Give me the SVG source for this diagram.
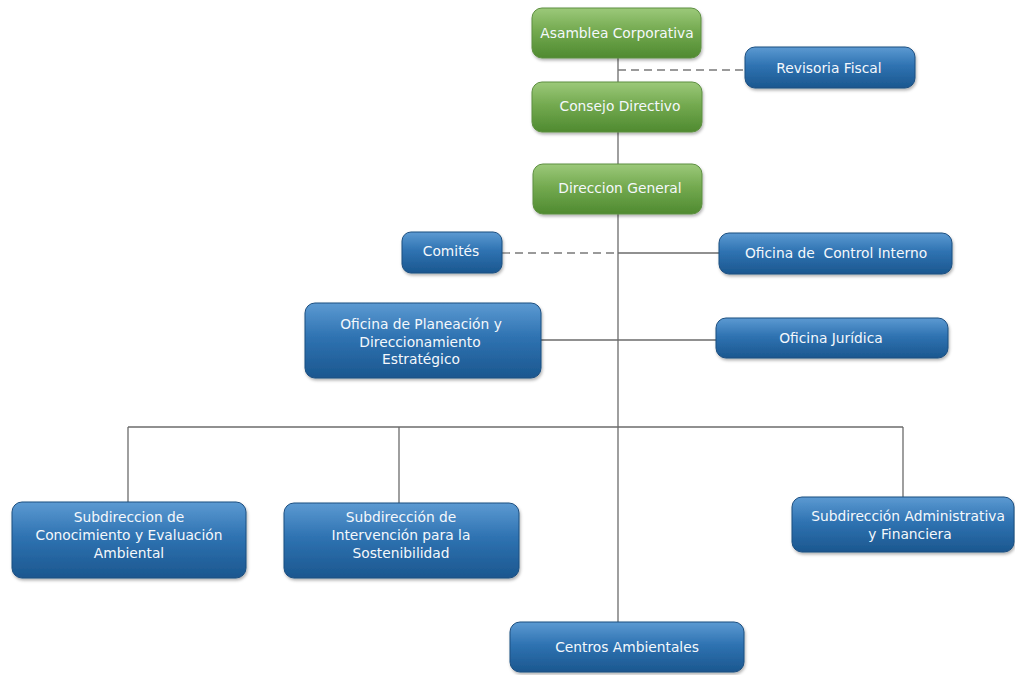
<svg xmlns="http://www.w3.org/2000/svg" width="1015" height="675" viewBox="0 0 1015 675">
<defs>
<linearGradient id="gGreen" x1="0" y1="0" x2="0" y2="1">
<stop offset="0" stop-color="#9cc97a"/>
<stop offset="0.45" stop-color="#74aa50"/>
<stop offset="1" stop-color="#4f8a30"/>
</linearGradient>
<linearGradient id="gBlue" x1="0" y1="0" x2="0" y2="1">
<stop offset="0" stop-color="#5c9ad2"/>
<stop offset="0.45" stop-color="#2f73b2"/>
<stop offset="1" stop-color="#1b578f"/>
</linearGradient>
<filter id="sh" x="-10%" y="-20%" width="120%" height="150%">
<feDropShadow dx="1" dy="2" stdDeviation="1.5" flood-color="#000" flood-opacity="0.3"/>
</filter>
</defs>
<style>
.g{fill:url(#gGreen);stroke:#5d8f40;stroke-width:1;filter:url(#sh)}
.b{fill:url(#gBlue);stroke:#1c4f80;stroke-width:1;filter:url(#sh)}
.t{font-family:"DejaVu Sans",Verdana,sans-serif;font-size:13.8px;fill:#f4f8fc;text-anchor:middle}
.ln{stroke:#6b6b6b;stroke-width:1.3;fill:none}
.dl{stroke:#7a7a7a;stroke-width:1.3;fill:none;stroke-dasharray:8,5}
</style>
<rect width="1015" height="675" fill="#ffffff"/>
<g id="connectors">
<line class="ln" x1="618" y1="58" x2="618" y2="622"/>
<line class="dl" x1="618" y1="70" x2="745" y2="70"/>
<line class="dl" x1="502" y1="253" x2="618" y2="253"/>
<line class="ln" x1="618" y1="253" x2="719" y2="253"/>
<line class="ln" x1="541" y1="340" x2="716" y2="340"/>
<line class="ln" x1="128" y1="427" x2="903" y2="427"/>
<line class="ln" x1="128" y1="427" x2="128" y2="502"/>
<line class="ln" x1="399" y1="427" x2="399" y2="503"/>
<line class="ln" x1="903" y1="427" x2="903" y2="497"/>
</g>
<g id="asamblea">
<rect class="g" x="532" y="8" width="169" height="50" rx="10"/>
<text class="t" x="617" y="38">Asamblea Corporativa</text>
</g>
<g id="revisoria">
<rect class="b" x="745" y="47" width="170" height="41" rx="10"/>
<text class="t" x="829" y="73">Revisoria Fiscal</text>
</g>
<g id="consejo">
<rect class="g" x="532" y="82" width="170" height="50" rx="10"/>
<text class="t" x="620" y="111">Consejo Directivo</text>
</g>
<g id="direccion">
<rect class="g" x="533" y="164" width="169" height="50" rx="10"/>
<text class="t" x="620" y="193">Direccion General</text>
</g>
<g id="comites">
<rect class="b" x="402" y="232" width="100" height="41" rx="9"/>
<text class="t" x="451" y="256">Comités</text>
</g>
<g id="control">
<rect class="b" x="719" y="233" width="233" height="41" rx="10"/>
<text class="t" x="836" y="258" xml:space="preserve">Oficina de  Control Interno</text>
</g>
<g id="planeacion">
<rect class="b" x="305" y="303" width="236" height="75" rx="10"/>
<text class="t" x="421" y="329">Oficina de Planeación y</text>
<text class="t" x="420" y="347">Direccionamiento</text>
<text class="t" x="421" y="364">Estratégico</text>
</g>
<g id="juridica">
<rect class="b" x="716" y="318" width="232" height="40" rx="10"/>
<text class="t" x="831" y="343">Oficina Jurídica</text>
</g>
<g id="conocimiento">
<rect class="b" x="12" y="502" width="234" height="76" rx="10"/>
<text class="t" x="129" y="522">Subdireccion de</text>
<text class="t" x="129" y="540">Conocimiento y Evaluación</text>
<text class="t" x="129" y="558">Ambiental</text>
</g>
<g id="intervencion">
<rect class="b" x="284" y="503" width="235" height="75" rx="10"/>
<text class="t" x="401" y="522">Subdirección de</text>
<text class="t" x="401" y="540">Intervención para la</text>
<text class="t" x="401" y="558">Sostenibilidad</text>
</g>
<g id="administrativa">
<rect class="b" x="792" y="497" width="222" height="55" rx="10"/>
<text class="t" x="908" y="521">Subdirección Administrativa</text>
<text class="t" x="910" y="539">y Financiera</text>
</g>
<g id="centros">
<rect class="b" x="510" y="622" width="234" height="50" rx="10"/>
<text class="t" x="627" y="652">Centros Ambientales</text>
</g>
</svg>
